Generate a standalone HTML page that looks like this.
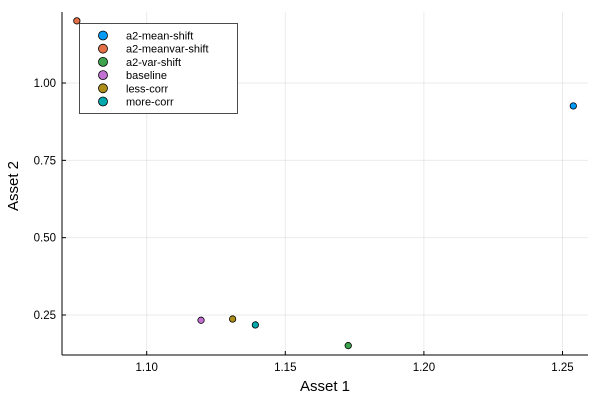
<!DOCTYPE html>
<html><head><meta charset="utf-8"><style>
body{margin:0;background:#fff}
svg{font-family:"Liberation Sans","DejaVu Sans",sans-serif}
</style></head><body>
<svg id="chart" width="600" height="400" viewBox="0 0 600 400"></svg>
<script>
const seriesNames=["a2-mean-shift","a2-meanvar-shift","a2-var-shift","baseline","less-corr","more-corr"];
const xValues=[1.2539,1.0748,1.1727,1.1196,1.131,1.1392];
const yValues=[0.926,1.201,0.151,0.233,0.237,0.218];
const colors=["#009af9","#e26f46","#3da44d","#c271d2","#ac8e18","#00a9ad"];
const xTicks=[1.10,1.15,1.20,1.25];
const xTickLabels=["1.10","1.15","1.20","1.25"];
const yTicks=[0.25,0.50,0.75,1.00];
const yTickLabels=["0.25","0.50","0.75","1.00"];
const L=62,R=588,T=12,B=355;
const sx=v=>146.7+(v-1.10)*2772;
const sy=v=>315-(v-0.25)*309.3;
const svg=document.getElementById('chart');
const NS="http://www.w3.org/2000/svg";
function mk(tag,attrs,parent){const e=document.createElementNS(NS,tag);for(const k in attrs)e.setAttribute(k,attrs[k]);(parent||svg).appendChild(e);return e;}
xTicks.forEach((t,i)=>{
 const g=mk('line',{x1:sx(t),x2:sx(t),y1:T,y2:B,stroke:'#000','stroke-opacity':0.08});
 
 
 mk('line',{x1:sx(t),x2:sx(t),y1:B,y2:B-4,stroke:'#000'});
 const tx=mk('text',{x:sx(t),y:B+16,'text-anchor':'middle','font-size':11.5});
 tx.textContent=xTickLabels[i];
 
 
});
yTicks.forEach((t,i)=>{
 const g=mk('line',{x1:L,x2:R,y1:sy(t),y2:sy(t),stroke:'#000','stroke-opacity':0.08});
 
 
 mk('line',{x1:L,x2:L+4,y1:sy(t),y2:sy(t),stroke:'#000'});
 const tx=mk('text',{x:L-6,y:sy(t)+4,'text-anchor':'end','font-size':11.5});
 tx.textContent=yTickLabels[i];
 
 
});
const xa=mk('line',{x1:L,x2:R,y1:B,y2:B,stroke:'#000'});


const ya=mk('line',{x1:L,x2:L,y1:T,y2:B,stroke:'#000'});


const xt=mk('text',{x:325,y:391,'text-anchor':'middle','font-size':15});
xt.textContent='Asset 1';


const yt=mk('text',{x:0,y:0,'text-anchor':'middle','font-size':15,transform:'translate(18,186) rotate(-90)'});
yt.textContent='Asset 2';


seriesNames.forEach((n,i)=>{
 const c=mk('circle',{cx:sx(xValues[i]),cy:sy(yValues[i]),r:3.2,fill:colors[i],stroke:'#000','stroke-width':0.8});
 
 
});
const lg=mk('g',{});


mk('rect',{x:79.5,y:23.5,width:158,height:90,fill:'#fff',stroke:'#000','stroke-opacity':0.7},lg);
seriesNames.forEach((n,i)=>{
 const y=35.5+i*13.2;
 const c=mk('circle',{cx:103,cy:y,r:4.5,fill:colors[i],stroke:'#000','stroke-width':0.8},lg);
 
 
 const t=mk('text',{x:126,y:y+4,'font-size':11},lg);
 t.textContent=n;
 
 
});
</script>
</body></html>
